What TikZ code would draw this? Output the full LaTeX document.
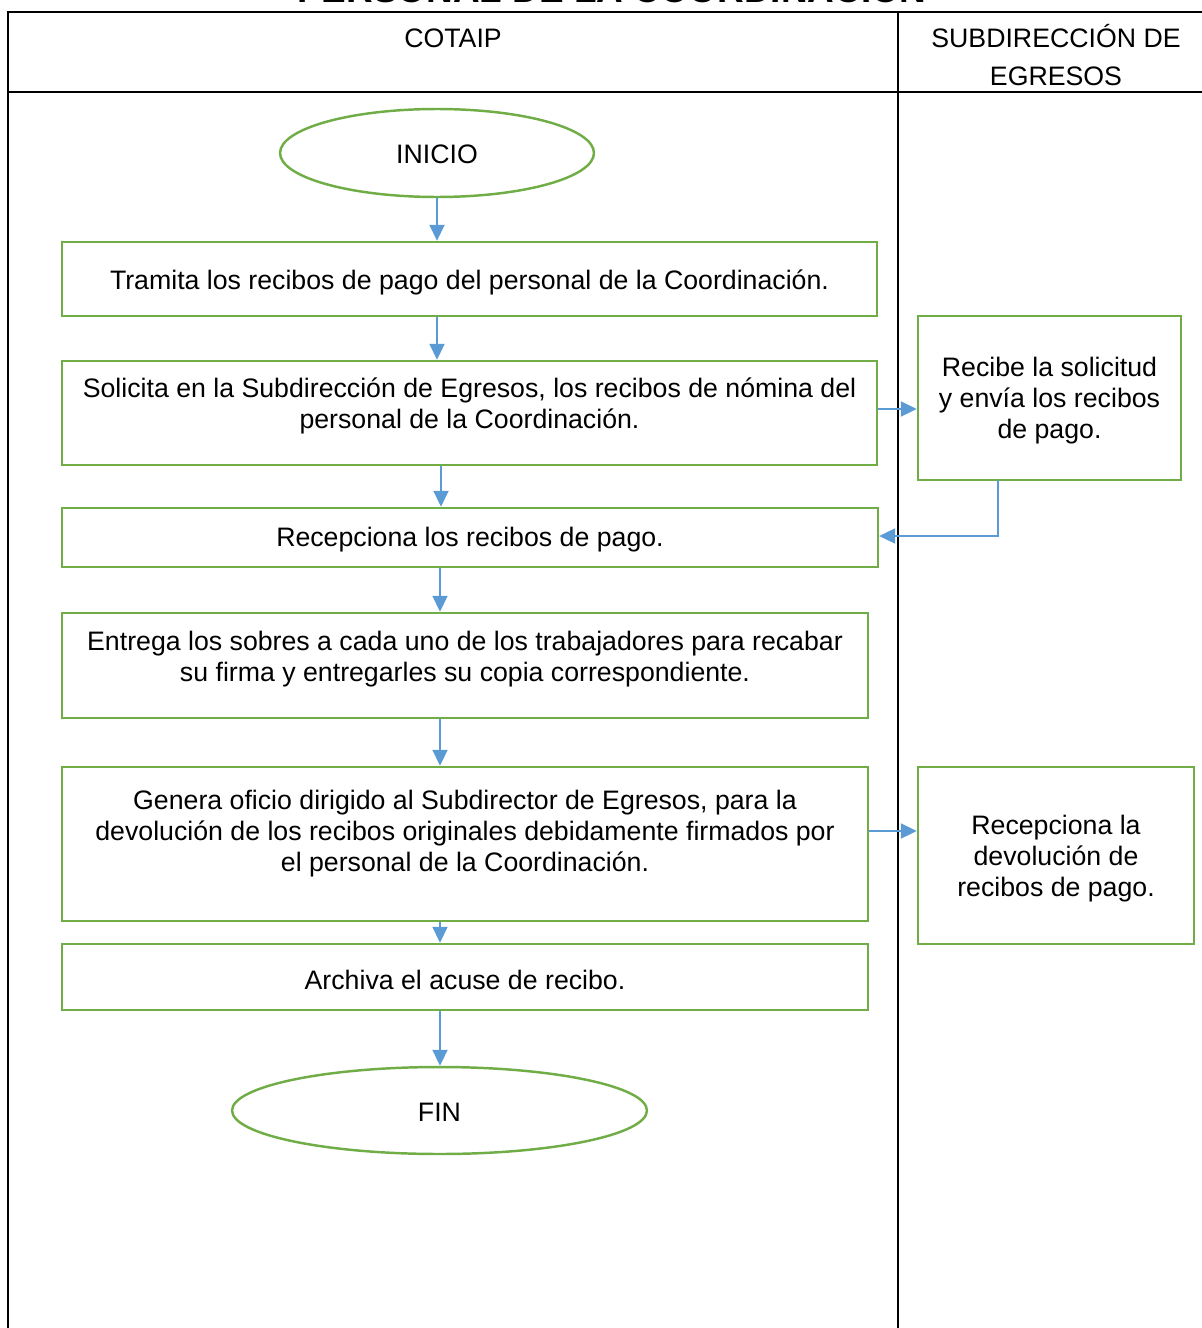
\documentclass[tikz,border=0pt]{standalone}
\usepackage{fontspec}
\setmainfont{Liberation Sans}
\usepackage{xcolor}
\definecolor{office-green}{RGB}{112,173,71}
\definecolor{office-blue}{RGB}{91,155,213}
\usepackage{tikz}
\usetikzlibrary{arrows.meta,shapes.geometric,positioning}

\begin{document}
\begin{tikzpicture}[
    x=0.02cm, y=-0.02cm,
    every node/.style={inner sep=0pt},
    stepbox/.style={draw=office-green, line width=1.4pt, rectangle},
    endbox/.style={draw=office-green, line width=1.4pt, ellipse},
    steptext/.style={font=\fontsize{15.2}{17.6}\selectfont, align=center},
    flow/.style={draw=office-blue, line width=1.1pt, -{Triangle[length=0.32cm, width=0.3cm]}}
]

\useasboundingbox (0,0) rectangle (1202,1328);

% Title (cut off by the page edge)
\node[font=\fontsize{21}{24}\selectfont\bfseries, anchor=base] (title) at (612,3) {PERSONAL DE LA COORDINACIÓN};

% Lanes
\draw[black, line width=1.1pt] (8,1340) -- (8,12) -- (1203,12);
\draw[black, line width=1.1pt] (8,92) -- (1203,92);
\draw[black, line width=1.1pt] (898,12) -- (898,1340);

\node[steptext] (lane1) at (453,38) {COTAIP};
\node[font=\fontsize{15.2}{22}\selectfont, align=center] (lane2) at (1056,55) {SUBDIRECCIÓN DE\\EGRESOS};

% Start
\node[endbox, minimum width=6.28cm, minimum height=1.76cm] (inicio) at (437,153) {};
\node[steptext] (tinicio) at (437,154) {INICIO};

% COTAIP steps
\node[stepbox, minimum width=16.3cm, minimum height=1.48cm] (b1) at (469.5,279) {};
\node[steptext] (t1) at (469.5,282) {Tramita los recibos de pago del personal de la Coordinación.};

\node[stepbox, minimum width=16.3cm, minimum height=2.08cm] (b2) at (469.5,413) {};
\node[steptext] (t2) at (469.5,406) {Solicita en la Subdirección de Egresos, los recibos de nómina del\\personal de la Coordinación.};

\node[stepbox, minimum width=16.32cm, minimum height=1.18cm] (b3) at (470,537.5) {};
\node[steptext] (t3) at (470,540) {Recepciona los recibos de pago.};

\node[stepbox, minimum width=16.12cm, minimum height=2.1cm] (b4) at (465,665.5) {};
\node[steptext] (t4) at (465,659) {Entrega los sobres a cada uno de los trabajadores para recabar\\su firma y entregarles su copia correspondiente.};

\node[stepbox, minimum width=16.12cm, minimum height=3.08cm] (b5) at (465,844) {};
\node[steptext] (t5) at (465,834) {Genera oficio dirigido al Subdirector de Egresos, para la\\devolución de los recibos originales debidamente firmados por\\el personal de la Coordinación.};

\node[stepbox, minimum width=16.12cm, minimum height=1.32cm] (b6) at (465,977) {};
\node[steptext] (t6) at (465,980) {Archiva el acuse de recibo.};

% End
\node[endbox, minimum width=8.3cm, minimum height=1.74cm] (fin) at (439.5,1110.5) {};
\node[steptext] (tfin) at (439.5,1112) {FIN};

% Subdireccion steps
\node[stepbox, minimum width=5.26cm, minimum height=3.28cm] (r1) at (1049.5,398) {};
\node[steptext] (tr1) at (1049.5,401) {Recibe la solicitud\\y envía los recibos\\de pago.};

\node[stepbox, minimum width=5.52cm, minimum height=3.54cm] (r2) at (1056,855.5) {};
\node[steptext] (tr2) at (1056,859) {Recepciona la\\devolución de\\recibos de pago.};

% Connectors
\coordinate (r1out) at (998,480);
\coordinate (r1turn) at (998,536);

\draw[flow] (inicio.south) -- (b1.north -| inicio.south);
\draw[flow] (b1.south -| inicio.south) -- (b2.north -| inicio.south);
\draw[flow] (b2.east |- 0,409) -- (r1.west |- 0,409);
\draw[flow] (b2.south -| 441,0) -- (b3.north -| 441,0);
\draw[flow] (r1out) -- (r1turn) -- (b3.east |- r1turn);
\draw[flow] (b3.south -| 440,0) -- (b4.north -| 440,0);
\draw[flow] (b4.south -| 440,0) -- (b5.north -| 440,0);
\draw[flow] (b5.east |- 0,831) -- (r2.west |- 0,831);
\draw[flow] (b5.south -| 440,0) -- (b6.north -| 440,0);
\draw[flow] (b6.south -| 440,0) -- (fin.north -| 440,0);

\end{tikzpicture}
\end{document}
